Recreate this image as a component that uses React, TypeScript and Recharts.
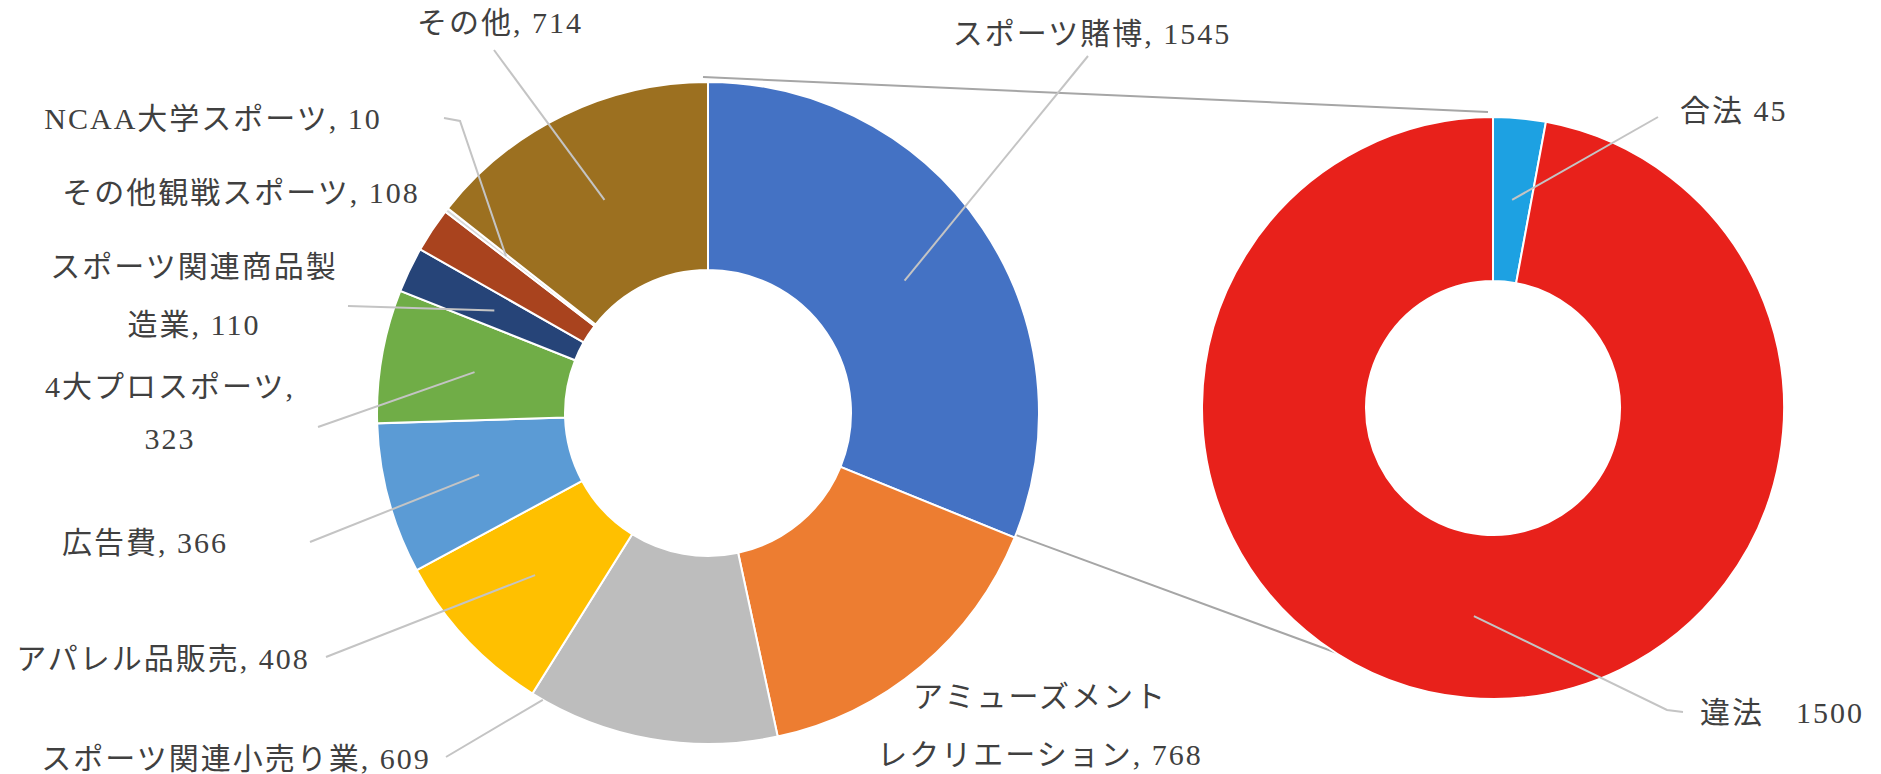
// Sports market breakdown donut + betting legal/illegal donut
import { PieChart, Pie, Cell } from 'recharts'

const marketNames = [
  'スポーツ賭博',
  'アミューズメントレクリエーション',
  'スポーツ関連小売り業',
  'アパレル品販売',
  '広告費',
  '4大プロスポーツ',
  'スポーツ関連商品製造業',
  'その他観戦スポーツ',
  'NCAA大学スポーツ',
  'その他',
]
const marketValues = [1545, 768, 609, 408, 366, 323, 110, 108, 10, 714]

const betNames = ['合法', '違法']
const betValues = [45, 1500]

const marketColors = ['#4472C4', '#ED7D31', '#BDBDBD', '#FFC000', '#5B9BD5', '#70AD47', '#264478', '#A9431E', '#D9D9D9', '#9C7020']
const betColors = ['#1DA1E2', '#E8211B']

const W = 1881
const H = 774
const LEFT = { cx: 703, cy: 408, r0: 143, r1: 331 }
const RIGHT = { cx: 1488, cy: 403, r0: 127, r1: 291 }
const RAD = Math.PI / 180

const textStyle = {
  fontFamily: "'Liberation Serif', 'Noto Sans CJK JP', serif",
  fontSize: 30,
  fill: '#404040',
  letterSpacing: 2,
}

type Spot = {
  x: number
  y: number
  anchor: 'start' | 'middle' | 'end'
  split?: number
  gap?: number
  sep?: string
  leader?: number[][]
  reach?: number
  shift?: number
}

// where each label sits (label layout, not data)
const marketSpots: Spot[] = [
  { x: 1092, y: 33, anchor: 'middle', leader: [[1088, 56]] },
  { x: 1040, y: 696, anchor: 'middle', split: 8, gap: 58 },
  { x: 236, y: 758, anchor: 'middle', leader: [[446, 757]], reach: 1, shift: -20 },
  { x: 163, y: 658, anchor: 'middle', leader: [[326, 657]] },
  { x: 145, y: 542, anchor: 'middle', leader: [[310, 542]] },
  { x: 170, y: 386, anchor: 'middle', split: 9, gap: 52, leader: [[318, 427]] },
  { x: 194, y: 266, anchor: 'middle', split: 9, gap: 58, leader: [[348, 306]] },
  { x: 241, y: 192, anchor: 'middle' },
  { x: 213, y: 118, anchor: 'middle', leader: [[444, 118], [460, 121]], reach: 0.6 },
  { x: 500, y: 22, anchor: 'middle', leader: [[494, 50]] },
]
const betSpots: Spot[] = [
  { x: 1680, y: 110, anchor: 'start', sep: ' ', leader: [[1658, 117]] },
  { x: 1700, y: 712, anchor: 'start', sep: '　', leader: [[1683, 712], [1667, 710]] },
]

const marketData = marketNames.map((name, i) => ({ name, value: marketValues[i] }))
const betData = betNames.map((name, i) => ({ name, value: betValues[i] }))

function makeLabel(spots: Spot[]) {
  return (props: any) => {
    const { cx, cy, midAngle, innerRadius, outerRadius, index, name, value } = props
    const spot = spots[index]
    if (!spot) return null
    const full = `${name}${spot.sep ?? ', '}${value}`
    const lines = spot.split ? [full.slice(0, spot.split), full.slice(spot.split).trim()] : [full]
    let leader = null
    if (spot.leader) {
      const reach = spot.reach ?? 0.5
      const r = innerRadius + (outerRadius - innerRadius) * reach
      const a = midAngle + (spot.shift ?? 0)
      const px = cx + Math.cos(-a * RAD) * r
      const py = cy + Math.sin(-a * RAD) * r
      const pts = [...spot.leader, [px, py]].map((p) => p.join(',')).join(' ')
      leader = <polyline points={pts} fill="none" stroke="#C4C4C4" strokeWidth={2} />
    }
    return (
      <g>
        {leader}
        {lines.map((t, k) => (
          <text
            key={k}
            x={spot.x}
            y={spot.y + k * (spot.gap ?? 0)}
            textAnchor={spot.anchor}
            dominantBaseline="central"
            style={textStyle}
          >
            {t}
          </text>
        ))}
      </g>
    )
  }
}

export default function App() {
  const total = marketValues.reduce((a, b) => a + b, 0)
  const sweep = (360 * marketValues[0]) / total
  // connectors from the betting slice to the second donut
  const top = [LEFT.cx, LEFT.cy - LEFT.r1, RIGHT.cx, RIGHT.cy - RIGHT.r1]
  const bottom = [
    LEFT.cx + LEFT.r1 * Math.sin(sweep * RAD),
    LEFT.cy - LEFT.r1 * Math.cos(sweep * RAD),
    RIGHT.cx + RIGHT.r1 * Math.sin(210 * RAD),
    RIGHT.cy - RIGHT.r1 * Math.cos(210 * RAD),
  ]

  return (
    <div style={{ position: 'absolute', left: 0, top: 0, width: W, height: H, background: '#fff' }}>
      <svg width={W} height={H} style={{ position: 'absolute', left: 0, top: 0 }}>
        <line x1={top[0]} y1={top[1]} x2={top[2]} y2={top[3]} stroke="#A6A6A6" strokeWidth={2} />
        <line x1={bottom[0]} y1={bottom[1]} x2={bottom[2]} y2={bottom[3]} stroke="#A6A6A6" strokeWidth={2} />
      </svg>
      <div style={{ position: 'absolute', left: 0, top: 0 }}>
        <PieChart width={W} height={H}>
          <Pie
            data={marketData}
            dataKey="value"
            nameKey="name"
            cx={LEFT.cx}
            cy={LEFT.cy}
            innerRadius={LEFT.r0}
            outerRadius={LEFT.r1}
            startAngle={90}
            endAngle={-270}
            stroke="#ffffff"
            strokeWidth={2}
            label={makeLabel(marketSpots)}
            labelLine={false}
            isAnimationActive={false}
          >
            {marketData.map((d, i) => (
              <Cell key={d.name} fill={marketColors[i]} />
            ))}
          </Pie>
          <Pie
            data={betData}
            dataKey="value"
            nameKey="name"
            cx={RIGHT.cx}
            cy={RIGHT.cy}
            innerRadius={RIGHT.r0}
            outerRadius={RIGHT.r1}
            startAngle={90}
            endAngle={-270}
            stroke="#ffffff"
            strokeWidth={2}
            label={makeLabel(betSpots)}
            labelLine={false}
            isAnimationActive={false}
          >
            {betData.map((d, i) => (
              <Cell key={d.name} fill={betColors[i]} />
            ))}
          </Pie>
        </PieChart>
      </div>
    </div>
  )
}
